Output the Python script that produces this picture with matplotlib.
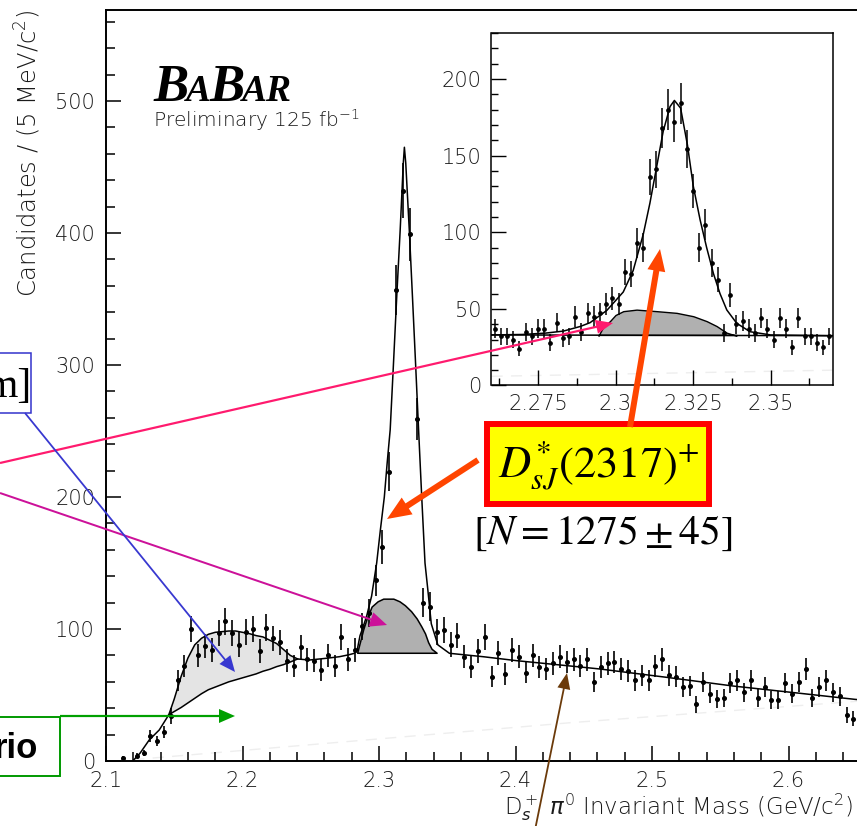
import numpy as np
import matplotlib
matplotlib.use('Agg')
import matplotlib.pyplot as plt
from matplotlib.patches import Rectangle
from matplotlib.ticker import MultipleLocator, FuncFormatter

plt.rcParams['font.family'] = ['DejaVu Sans']
plt.rcParams['font.weight'] = 'light'
plt.rcParams['axes.labelweight'] = 'light'

# Ds+ pi0 spectrum, 5 MeV bins starting at 2.11 GeV
bin_lo = 2.11
bin_w = 0.005
counts = [2, 0, 4, 6, 19, 15, 22, 34, 61, 72,
          100, 80, 87, 84, 97, 106, 97, 88, 98, 100,
          83, 101, 93, 90, 76, 72, 86, 77, 76, 69,
          80, 72, 94, 77, 84, 102, 112, 137, 162, 219,
          357, 432, 399, 259, 120, 117, 98, 99, 88, 95,
          79, 71, 83, 94, 64, 82, 66, 84, 79, 67,
          80, 71, 70, 74, 79, 75, 77, 72, 77, 60,
          71, 74, 75, 70, 68, 61, 65, 61, 72, 77,
          65, 64, 56, 57, 43, 60, 51, 47, 48, 59,
          61, 52, 61, 48, 56, 46, 46, 59, 51, 60,
          70, 48, 56, 61, 52, 49, 35, 32]

# total fit
fit_x = [2.1196, 2.1250, 2.1317, 2.1390, 2.1460, 2.1500, 2.1550, 2.1600, 2.1650, 2.1700,
         2.1750, 2.1800, 2.1850, 2.1900, 2.1950, 2.2000, 2.2050, 2.2100, 2.2150, 2.2200,
         2.2250, 2.2300, 2.2350, 2.2404, 2.2489, 2.2612, 2.2709, 2.2780, 2.2819, 2.2840,
         2.2861, 2.2885, 2.2910, 2.2946, 2.2983, 2.3010, 2.3039, 2.3060, 2.3082, 2.3106,
         2.3130, 2.3155, 2.3178, 2.3186, 2.3196, 2.3222, 2.3245, 2.3268, 2.3290, 2.3313,
         2.3337, 2.3358, 2.3383, 2.3431, 2.3516, 2.3765, 2.4009, 2.4253, 2.4497, 2.4619,
         2.5107, 2.5595, 2.6084, 2.6487, 2.6800]
fit_y = [0, 6, 16, 23.5, 35, 47, 64, 78, 88, 93,
         96, 97.5, 98, 98.5, 98.5, 97.5, 96.5, 95, 94, 91.5,
         89, 84.5, 80, 77.3, 76.5, 77.8, 79, 80.5, 81.6, 84,
         95, 102, 110, 125, 150, 175, 200, 226, 251, 301,
         352, 402, 453, 465, 453, 402, 352, 301, 251, 200,
         150, 129.5, 104, 88, 81.6, 79, 76, 73.5, 71, 69.7,
         63.4, 56.8, 51.3, 46.7, 44]

# light shaded enhancement near 2.2
bump_x = [2.146, 2.150, 2.155, 2.160, 2.165, 2.170, 2.175, 2.180, 2.185, 2.190,
          2.195, 2.200, 2.205, 2.210, 2.215, 2.220, 2.225, 2.230, 2.235, 2.2404]
bump_top = [35, 47, 64, 78, 88, 93, 96, 97.5, 98, 98.5,
            98.5, 97.5, 96.5, 95, 94, 91.5, 89, 84.5, 80, 77.3]
bump_low = [35, 37.5, 40.5, 44, 47.5, 51, 54, 56, 58, 60,
            61.5, 63, 64.5, 66, 68, 69.5, 71.5, 73, 75, 77.3]

# dark shaded reflection under the peak
hump_x = [2.2840, 2.2860, 2.2885, 2.2910, 2.2946, 2.2990, 2.3031, 2.3068, 2.3105,
          2.3150, 2.3190, 2.3235, 2.3276, 2.3310, 2.3337, 2.3360, 2.3385, 2.3422]
hump_top = [82, 90, 100, 108, 117, 121, 123, 123, 123,
            121, 118, 113.5, 108, 102, 96.7, 90, 85, 82]
hump_floor = 82

faint_x = [2.12, 2.44, 2.66]
faint_y = [1, 29, 46]

# zoomed spectrum, 2 MeV bins starting at 2.26 GeV
zoom_lo = 2.26
zoom_w = 0.002
zoom_counts = [37, 32, 32, 30, 24, 35, 32, 37, 37, 28,
               41, 31, 32, 45, 35, 47, 45, 47, 53, 57,
               53, 74, 73, 93, 90, 136, 141, 168, 180, 172,
               184, 154, 127, 90, 105, 80, 69, 34, 59, 40,
               42, 37, 34, 44, 37, 30, 44, 37, 25, 44,
               32, 32, 28, 25, 32]

zfit_x = [2.2600, 2.2700, 2.2775, 2.2832, 2.2886, 2.2918, 2.2972, 2.3025, 2.3057, 2.3090,
          2.3111, 2.3133, 2.3154, 2.3176, 2.3190, 2.3210, 2.3232, 2.3251, 2.3273, 2.3294,
          2.3316, 2.3337, 2.3359, 2.3391, 2.3434, 2.3500, 2.3700]
zfit_y = [33, 33.3, 34.2, 35.5, 38.5, 41, 49, 61, 75, 99,
          119, 143, 166, 182, 186, 181, 157, 130, 108, 90,
          73, 60, 49.3, 40.6, 35.1, 33, 32.5]

zhump_x = [2.2945, 2.2960, 2.2982, 2.3000, 2.3025, 2.3068, 2.3100, 2.3133, 2.3197,
           2.3251, 2.3294, 2.3326, 2.3358, 2.3390]
zhump_top = [32.5, 38, 42, 46, 48.5, 49.5, 49, 48.5, 47.4,
             45.2, 42, 38.8, 34.5, 32.5]
zbkg_x = [2.26, 2.37]
zbkg_y = [33, 32.5]
zfaint_x = [2.26, 2.37]
zfaint_y = [6, 10]

W, H = 857, 826
fig = plt.figure(figsize=(W / 100, H / 100), dpi=100)


def px_box(left, top, right, bottom):
    return [left / W, 1 - bottom / H, (right - left) / W, (bottom - top) / H]


fmt = FuncFormatter(lambda v, p: f'{v:g}')
txt_col = '#1a1a1a'
faint_col = '#eeeeee'

# ---- main spectrum
ax = fig.add_axes(px_box(106, 10, 106 + 0.58 * 1365, 761))
ax.set_xlim(2.1, 2.68)
ax.set_ylim(0, 569)

ax.plot(faint_x, faint_y, color=faint_col, lw=1.0, dashes=(8, 6), zorder=1)
ax.fill_between(bump_x, bump_low, bump_top, facecolor='#e4e4e4', edgecolor='none', zorder=1)
ax.plot(bump_x, bump_low, color='black', lw=1.1, zorder=2)
ax.fill_between(hump_x, hump_floor, hump_top, facecolor='#b0b0b0', edgecolor='black',
                lw=1.1, zorder=2)
ax.plot(fit_x, fit_y, color='black', lw=1.1, zorder=3)

n = np.array(counts, dtype=float)
cx = bin_lo + bin_w * (np.arange(len(n)) + 0.5)
m = n > 0
ax.errorbar(cx[m], n[m], yerr=np.sqrt(n[m]), fmt='o', ms=2.6, color='black',
            elinewidth=1.2, capsize=0, zorder=4)

ax.xaxis.set_major_locator(MultipleLocator(0.1))
ax.xaxis.set_minor_locator(MultipleLocator(0.02))
ax.yaxis.set_major_locator(MultipleLocator(100))
ax.yaxis.set_minor_locator(MultipleLocator(20))
ax.xaxis.set_major_formatter(fmt)
ax.yaxis.set_major_formatter(fmt)
ax.tick_params(which='both', direction='in', top=False, right=False, width=1.1,
               labelsize=15, labelcolor=txt_col)
ax.tick_params(which='major', length=10.8)
ax.tick_params(which='minor', length=6.2)
ax.tick_params(axis='y', pad=8)
ax.tick_params(axis='x', pad=7)
for s in ax.spines.values():
    s.set_linewidth(1.4)

ax.set_ylabel(r'Candidates / (5 MeV/c$^2$)', fontsize=17.5, loc='top', color=txt_col)
ax.yaxis.set_label_coords(-0.079, 1.0)
ax.set_xlabel(r'D$_s^+$ $\pi^0$ Invariant Mass (GeV/c$^2$)', fontsize=16.5, loc='right',
              color=txt_col)
ax.xaxis.set_label_coords(0.9435, -0.041)

# ---- zoomed view of the peak
axi = fig.add_axes(px_box(491.5, 33, 832.5, 385.5))
axi.set_xlim(2.26, 2.37)
axi.set_ylim(0, 230)
axi.plot(zfaint_x, zfaint_y, color=faint_col, lw=1.0, dashes=(8, 6), zorder=1)
axi.fill_between(zhump_x, zbkg_y[0], zhump_top, facecolor='#b0b0b0', edgecolor='black',
                 lw=1.0, zorder=2)
axi.plot(zbkg_x, zbkg_y, color='black', lw=1.1, zorder=2)
axi.plot(zfit_x, zfit_y, color='black', lw=1.1, zorder=3)

zn = np.array(zoom_counts, dtype=float)
zx = zoom_lo + zoom_w * (np.arange(len(zn)) + 0.5)
axi.errorbar(zx, zn, yerr=np.sqrt(zn), fmt='o', ms=2.4, color='black',
             elinewidth=1.1, capsize=0, zorder=4)

axi.xaxis.set_major_locator(MultipleLocator(0.025))
axi.xaxis.set_minor_locator(MultipleLocator(0.0125))
axi.yaxis.set_major_locator(MultipleLocator(50))
axi.yaxis.set_minor_locator(MultipleLocator(10))
axi.xaxis.set_major_formatter(fmt)
axi.yaxis.set_major_formatter(fmt)
axi.tick_params(which='both', direction='in', top=False, right=False, width=1.0,
                labelsize=15, labelcolor=txt_col)
axi.tick_params(which='major', length=10.5)
axi.tick_params(which='minor', length=5.2)
axi.tick_params(axis='y', pad=7)
axi.tick_params(axis='x', pad=6)
for s in axi.spines.values():
    s.set_linewidth(1.1)

# ---- annotations layer in pixel units
ov = fig.add_axes([0, 0, 1, 1])
ov.set_xlim(0, W)
ov.set_ylim(H, 0)
ov.axis('off')
ov.set_zorder(10)

renderer = fig.canvas.get_renderer()
x = 153
for s, size in [('B', 38), ('A', 27), ('B', 38), ('AR', 27)]:
    t = ov.text(x, 101, s, fontsize=size, family='Liberation Serif', weight='bold',
                style='italic', va='baseline', ha='left')
    x += t.get_window_extent(renderer).width - 2
ov.text(153, 127, r'Preliminary 125 fb$^{-1}$', fontsize=14.5, va='baseline', color=txt_col)

ov.add_patch(Rectangle((-20, 353), 51, 60, facecolor='white', edgecolor='#3333cc', lw=1.1))
ov.text(31, 397, 'm]', family='Liberation Serif', fontsize=30, ha='right', va='baseline')
ov.add_patch(Rectangle((-20, 717), 80, 59, facecolor='white', edgecolor='#009900', lw=1.4))
ov.text(38, 758, 'rio', family='Liberation Sans', weight='bold', fontsize=25,
        ha='right', va='baseline')

ov.add_patch(Rectangle((487, 424), 222, 80, facecolor='#ffff00', edgecolor='#ff0000', lw=4.3))
ov.text(498, 478, r'$D^{*}_{sJ}(2317)^{+}$', fontsize=32, math_fontfamily='stix',
        va='baseline', ha='left')
ov.text(473, 544, r'$[N = 1275 \pm 45]$', fontsize=30, math_fontfamily='stix',
        va='baseline', ha='left')

arrows = [
    ((0, 463), (613, 323), '#ff1a6e', 2.2, 14, 17),
    ((0, 493), (387, 625), '#cc1199', 2.0, 15, 17),
    ((25, 413), (235, 672), '#3838d0', 1.8, 14, 16),
    ((60, 716), (235, 716), '#00a000', 2.2, 14, 16),
    ((478, 460), (387, 519), '#ff4500', 6.0, 20, 24),
    ((630, 427), (660, 249), '#ff4500', 6.0, 18, 22),
    ((535, 830), (567, 673), '#6b3a0a', 1.8, 13, 16),
]
for (x0, y0), (x1, y1), c, w, hw, hl in arrows:
    ov.arrow(x0, y0, x1 - x0, y1 - y0, width=w, head_width=hw, head_length=hl,
             length_includes_head=True, color=c, lw=0)

fig.savefig('out.png', dpi=100)
